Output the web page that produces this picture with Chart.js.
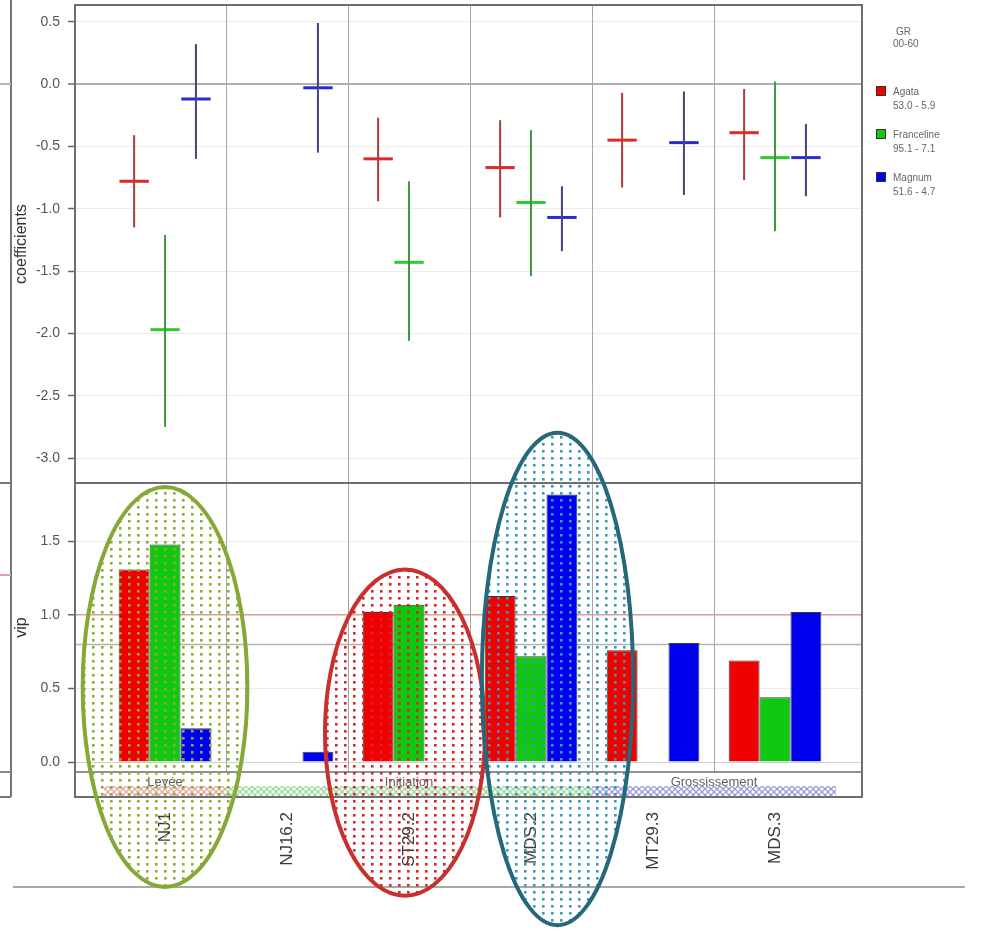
<!DOCTYPE html>
<html><head><meta charset="utf-8">
<script src="https://cdn.jsdelivr.net/npm/chart.js@4.4.1/dist/chart.umd.min.js"></script>
<style>
html,body{margin:0;padding:0;background:#fff;}
#wrap{position:relative;width:981px;height:932px;overflow:hidden;}
#c{position:absolute;left:0;top:0;}
.lg{position:absolute;font:10px Arial,"Liberation Sans",sans-serif;color:#666;white-space:nowrap;line-height:12px;}
.sw{position:absolute;width:8px;height:8px;border:1px solid #333;}
</style></head><body>
<div id="wrap"><canvas id="c" width="981" height="932"></canvas><div id="legend"></div></div>
<script>
// ---------------- data ----------------
const categories = ['NJ1', 'NJ16.2', 'ST29.2', 'MDS.2', 'MT29.3', 'MDS.3'];
const groups = ['Agata', 'Franceline', 'Magnum'];
const groupStats = ['53.0 - 5.9', '95.1 - 7.1', '51.6 - 4.7'];
const legendTitle = ['GR', '00-60'];

const coefAgata      = [-0.78, null, -0.60, -0.67, -0.45, -0.39];
const coefAgataLow   = [-1.15, null, -0.94, -1.07, -0.83, -0.77];
const coefAgataHigh  = [-0.41, null, -0.27, -0.29, -0.07, -0.04];

const coefFranceline     = [-1.97, null, -1.43, -0.95, null, -0.59];
const coefFrancelineLow  = [-2.75, null, -2.06, -1.54, null, -1.18];
const coefFrancelineHigh = [-1.21, null, -0.78, -0.37, null, 0.02];

const coefMagnum     = [-0.12, -0.03, null, -1.07, -0.47, -0.59];
const coefMagnumLow  = [-0.60, -0.55, null, -1.34, -0.89, -0.90];
const coefMagnumHigh = [0.32, 0.49, null, -0.82, -0.06, -0.32];

const vipAgata      = [1.31, null, 1.02, 1.13, 0.76, 0.69];
const vipFranceline = [1.48, null, 1.07, 0.72, null, 0.44];
const vipMagnum     = [0.23, 0.07, null, 1.82, 0.81, 1.02];

const vipThresholds = [0.8, 1.0];
const coefTickStep = 0.5;
const vipTickStep = 0.5;

const stages = ['Levée', 'Initiation', 'Grossissement'];
const stageFrom = [-0.5, 0.5, 3.5];
const stageTo   = [0.5, 3.5, 5.5];

// ---------------- styles ----------------
const barColors  = ['#f00000', '#10c810', '#0000f0'];
const tickColors = ['#e02a2a', '#2ccc2c', '#2a2ad0'];
const errColors  = ['#b03a3a', '#3f9a3f', '#44447e'];
const stageColors = ['rgba(225,135,135,0.75)', 'rgba(120,205,120,0.75)', 'rgba(120,120,210,0.75)'];
// annotation ellipses (x in category units, y in vip units)
const ellipses = [
  {cx: 0.0,  rx: 0.675, top: 1.87, bottom: -0.85, color: '#86a836', dot: '#8aae2e'},
  {cx: 1.967, rx: 0.656, top: 1.31, bottom: -0.91, color: '#c7302d', dot: '#d2282a'},
  {cx: 3.217, rx: 0.62, top: 2.24, bottom: -1.11, color: '#24687a', dot: '#3a9ab0'}
];

const coefMid  = [coefAgata, coefFranceline, coefMagnum];
const coefLow  = [coefAgataLow, coefFrancelineLow, coefMagnumLow];
const coefHigh = [coefAgataHigh, coefFrancelineHigh, coefMagnumHigh];
const vipAll   = [vipAgata, vipFranceline, vipMagnum];

const CAT_PCT = 0.76;
const TICK_HALF = 0.012;
const toPts = (arr, f) => arr.map((v, i) => v === null ? null : {x: i, y: f(v, i)}).filter(Boolean);

const datasets = [];
groups.forEach((g, k) => {
  datasets.push({
    label: g + ' interval', type: 'bar', yAxisID: 'yc', stack: g,
    data: toPts(coefLow[k], (v, i) => [coefLow[k][i], coefHigh[k][i]]),
    backgroundColor: errColors[k], borderWidth: 0,
    categoryPercentage: CAT_PCT, barPercentage: 0.065
  });
  datasets.push({
    label: g + ' coefficient', type: 'bar', yAxisID: 'yc', stack: g,
    data: toPts(coefMid[k], v => [v - TICK_HALF, v + TICK_HALF]),
    backgroundColor: tickColors[k], borderWidth: 0,
    categoryPercentage: CAT_PCT, barPercentage: 0.95
  });
  datasets.push({
    label: g + ' vip', type: 'bar', yAxisID: 'yv', stack: g,
    data: toPts(vipAll[k], v => v),
    backgroundColor: barColors[k], borderColor: '#3a3a3a', borderWidth: 1,
    categoryPercentage: CAT_PCT, barPercentage: 1.0
  });
});

function makePattern(w, h, draw) {
  const c = document.createElement('canvas');
  c.width = w; c.height = h;
  const g = c.getContext('2d');
  draw(g);
  return document.getElementById('c').getContext('2d').createPattern(c, 'repeat');
}

const decor = {
  id: 'decor',
  beforeDatasetsDraw(chart) {
    const {ctx, chartArea: a, scales: {x, yv}} = chart;
    ctx.save();
    ctx.strokeStyle = '#b2b2b2'; ctx.lineWidth = 1.5;
    const py = yv.getPixelForValue(vipThresholds[0]);
    ctx.beginPath(); ctx.moveTo(a.left, py); ctx.lineTo(a.right, py); ctx.stroke();
    ctx.strokeStyle = '#a6a6a6'; ctx.lineWidth = 1;
    for (let i = 0; i < categories.length - 1; i++) {
      const px = Math.round(x.getPixelForValue(i + 0.5)) + 0.5;
      ctx.beginPath(); ctx.moveTo(px, a.top); ctx.lineTo(px, a.bottom); ctx.stroke();
    }
    ctx.restore();
  },
  afterDraw(chart) {
    const {ctx, chartArea: a, scales: {x, yc, yv}} = chart;
    const stripH = 25;
    ctx.save();
    // stage strip
    stages.forEach((s, k) => {
      const col = stageColors[k];
      const pat = makePattern(6, 6, g => {
        g.strokeStyle = col; g.lineWidth = 1.3;
        g.beginPath(); g.moveTo(0, 0); g.lineTo(6, 6); g.moveTo(6, 0); g.lineTo(0, 6); g.stroke();
      });
      const x0 = x.getPixelForValue(stageFrom[k]);
      const x1 = x.getPixelForValue(stageTo[k]);
      ctx.fillStyle = pat;
      ctx.fillRect(x0, a.bottom + 14, x1 - x0, 10);
      ctx.fillStyle = '#606060';
      ctx.font = '13px Arial, "Liberation Sans", sans-serif';
      ctx.textAlign = 'center'; ctx.textBaseline = 'middle';
      ctx.fillText(s, (x0 + x1) / 2, a.bottom + 10);
    });
    // frames
    ctx.strokeStyle = '#6e6e6e'; ctx.lineWidth = 2;
    ctx.strokeRect(a.left, a.top, a.right - a.left, yc.bottom - a.top);
    ctx.strokeRect(a.left, yc.bottom, a.right - a.left, a.bottom + stripH - yc.bottom);
    ctx.lineWidth = 1.5;
    ctx.beginPath(); ctx.moveTo(a.left, a.bottom); ctx.lineTo(a.right, a.bottom); ctx.stroke();
    // cropped neighbouring panel & bottom rule
    ctx.strokeStyle = '#777'; ctx.lineWidth = 2;
    ctx.beginPath(); ctx.moveTo(11, 0); ctx.lineTo(11, a.bottom + stripH); ctx.stroke();
    [[yc.getPixelForValue(0), '#b5b5b5'], [yc.bottom, '#777'], [a.bottom, '#888'], [a.bottom + stripH, '#777'], [575, '#e0a0a0']]
      .forEach(([yy, c]) => { ctx.strokeStyle = c; ctx.beginPath(); ctx.moveTo(0, yy); ctx.lineTo(11, yy); ctx.stroke(); });
    ctx.strokeStyle = '#a8a8a8'; ctx.lineWidth = 2;
    ctx.beginPath(); ctx.moveTo(13, 887); ctx.lineTo(965, 887); ctx.stroke();
    // ellipses
    ellipses.forEach(e => {
      const cx = x.getPixelForValue(e.cx);
      const rx = x.getPixelForValue(e.cx + e.rx) - cx;
      const yt = yv.getPixelForValue(e.top), yb = yv.getPixelForValue(e.bottom);
      const pat = makePattern(9, 7, g => {
        g.fillStyle = e.dot; g.fillRect(2, 2, 2.6, 2.6);
      });
      ctx.beginPath();
      ctx.ellipse(cx, (yt + yb) / 2, rx, (yb - yt) / 2, 0, 0, Math.PI * 2);
      ctx.fillStyle = pat; ctx.fill();
      ctx.strokeStyle = e.color; ctx.lineWidth = 4; ctx.stroke();
    });
    ctx.restore();
  }
};

const tickFont = {family: 'Arial, "Liberation Sans", sans-serif', size: 14};
const titleFont = {family: 'Arial, "Liberation Sans", sans-serif', size: 16};

function yAxis(min, max, step, weight, title, gridColor, gridWidth) {
  return {
    type: 'linear', position: 'left', stack: 'panels', stackWeight: weight,
    stacked: false, min: min, max: max,
    border: {display: false},
    grid: {color: gridColor, lineWidth: gridWidth, tickColor: '#666', tickLength: 7, tickWidth: 1.5, drawTicks: true},
    ticks: {stepSize: step, includeBounds: false, padding: 8, color: '#555', font: tickFont,
            callback: v => Number(v).toFixed(1)},
    title: {display: true, text: title, color: '#333', font: titleFont, padding: {top: 12, bottom: 0}},
    afterFit: s => { s.width = 75; s.paddingTop = 0; s.paddingBottom = 0; }
  };
}

new Chart(document.getElementById('c'), {
  type: 'bar',
  data: {datasets},
  plugins: [decor],
  options: {
    responsive: false, animation: false,
    layout: {padding: {top: 5, right: 119, left: 0, bottom: 0}},
    plugins: {legend: {display: false}, tooltip: {enabled: false}},
    scales: {
      x: {
        type: 'linear', position: 'bottom', stacked: true, offset: false,
        min: -0.738, max: 5.713,
        grid: {display: false, drawTicks: false, offset: false}, border: {display: false},
        ticks: {stepSize: 1, includeBounds: false, autoSkip: false, minRotation: 90, maxRotation: 90,
                padding: 40, color: '#3a3a3a', font: {family: 'Arial, "Liberation Sans", sans-serif', size: 17},
                callback: v => Number.isInteger(v) && categories[v] !== undefined ? categories[v] : ''},
        afterFit: s => { s.height = 160; s.paddingLeft = 0; s.paddingRight = 0; }
      },
      yv: yAxis(-0.068, 1.898, vipTickStep, 289, 'vip',
        c => !c.tick ? '#ebebeb' : (c.tick.value === vipThresholds[1] ? '#e29a9a' : (c.tick.value === 0 ? '#cfcfcf' : '#ececec')),
        c => c.tick && c.tick.value === vipThresholds[1] ? 1.5 : 1),
      yc: yAxis(-3.2, 0.634, coefTickStep, 478, 'coefficients',
        c => c.tick && c.tick.value === 0 ? '#b0b0b0' : '#ebebeb',
        c => c.tick && c.tick.value === 0 ? 2 : 1)
    }
  }
});

// legend
const lg = document.getElementById('legend');
const add = (html, left, top, cls, style) => {
  const d = document.createElement('div');
  d.className = cls; d.style.left = left + 'px'; d.style.top = top + 'px';
  if (style) Object.assign(d.style, style);
  d.innerHTML = html; lg.appendChild(d);
};
add(legendTitle[0], 896, 26, 'lg');
add(legendTitle[1], 893, 38, 'lg');
const itemTops = [86, 129, 172];
groups.forEach((g, k) => {
  add('', 876, itemTops[k], 'sw', {background: barColors[k]});
  add(g + '<br>' + groupStats[k], 893, itemTops[k] - 1, 'lg', {lineHeight: '14px'});
});
</script></body></html>
